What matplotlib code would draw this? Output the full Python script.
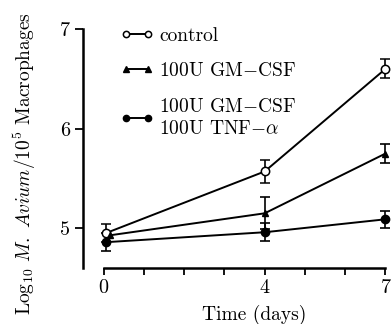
import matplotlib
matplotlib.use("Agg")
from matplotlib import pyplot as plt

plt.rcParams['font.family'] = 'serif'
plt.rcParams['font.serif'] = ['cmr10', 'DejaVu Serif']
plt.rcParams['mathtext.fontset'] = 'cm'
plt.rcParams['axes.unicode_minus'] = False

# growth of M. avium in macrophages, log10 counts (mean +/- error)
days_control = [0.05, 4, 7]
control = [4.95, 5.57, 6.60]
control_err = [0.09, 0.12, 0.095]

days_gm = [0.17, 4, 7]
gm_csf = [4.93, 5.15, 5.75]
gm_csf_err = [float('nan'), 0.16, 0.10]

days_gm_tnf = [0.05, 4, 7]
gm_tnf = [4.86, 4.96, 5.09]
gm_tnf_err = [0.09, 0.09, 0.085]

labels = ['control', '100U GM$-$CSF', '100U GM$-$CSF\n100U TNF$-\\alpha$']

fig = plt.figure(figsize=(3.92, 3.24), dpi=100)
ax = fig.add_axes([0.2128, 0.1725, 0.786, 0.738])

common = dict(color='black', lw=1.4, capsize=3.5, elinewidth=1.2,
              capthick=1.2, clip_on=False)
ax.errorbar(days_control, control, yerr=control_err, marker='o', ms=6,
            mfc='white', mec='black', mew=1.1, label=labels[0], **common)
ax.errorbar(days_gm, gm_csf, yerr=gm_csf_err, marker='^', ms=5,
            mfc='black', mec='black', label=labels[1], **common)
ax.errorbar(days_gm_tnf, gm_tnf, yerr=gm_tnf_err, marker='o', ms=6,
            mfc='black', mec='black', label=labels[2], **common)

ax.set_xlim(-0.5, 7.15)
ax.set_ylim(4.6, 7.0)

for side in ['top', 'right']:
    ax.spines[side].set_visible(False)
ax.spines['left'].set_linewidth(1.8)
ax.spines['bottom'].set_linewidth(1.8)
ax.spines['bottom'].set_bounds(0, 7)

ax.set_xticks([0, 4, 7])
ax.set_xticks([1, 2, 3, 5, 6], minor=True)
ax.set_yticks([5, 6, 7])
ax.tick_params(axis='both', which='both', direction='out', width=1.3,
               labelsize=14.5)
ax.tick_params(axis='x', which='both', length=5, pad=3)
ax.tick_params(axis='y', length=5.5, pad=4)

ax.set_xlabel('Time (days)', fontsize=14)
ax.xaxis.set_label_coords(0.553, -0.152)
ax.set_ylabel(r'Log$_{10}$ $M.\ Avium/10^5$ Macrophages', fontsize=14)
ax.yaxis.set_label_coords(-0.147, 0.435)

# legend without error bars
handles, labs = ax.get_legend_handles_labels()
handles = [h[0] for h in handles]
leg = ax.legend(handles, labs, loc='upper left', bbox_to_anchor=(0.12, 1.01),
                frameon=False, fontsize=14, numpoints=2, handlelength=1.7,
                handletextpad=0.3, labelspacing=0.9, markerscale=0.75,
                borderpad=0, borderaxespad=0)
for t in leg.get_texts():
    t.set_linespacing(1.3)

fig.savefig('out.png', dpi=100)
plt.close(fig)
